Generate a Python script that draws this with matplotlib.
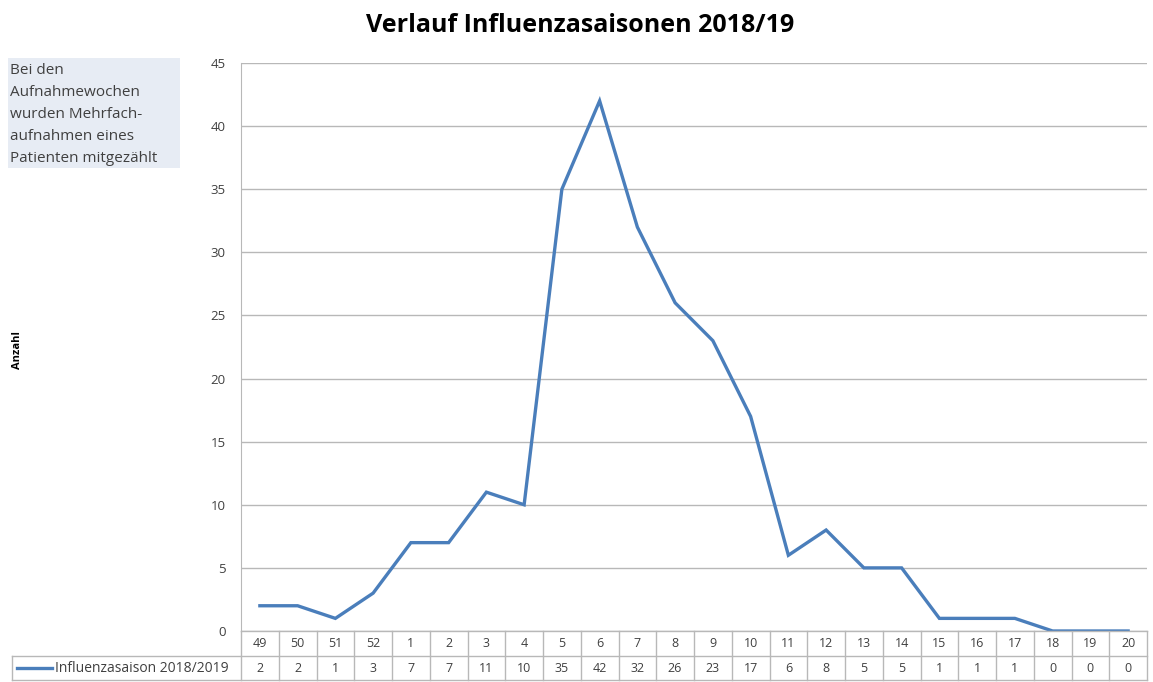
import matplotlib
matplotlib.use("Agg")
import matplotlib.pyplot as plt
from matplotlib.transforms import blended_transform_factory
from matplotlib.patches import Rectangle

weeks = ["49", "50", "51", "52", "1", "2", "3", "4", "5", "6", "7", "8",
         "9", "10", "11", "12", "13", "14", "15", "16", "17", "18", "19", "20"]
counts = [2, 2, 1, 3, 7, 7, 11, 10, 35, 42, 32, 26, 23, 17, 6, 8, 5, 5, 1, 1, 1, 0, 0, 0]
series_name = "Influenzasaison 2018/2019"
yticks = [0, 5, 10, 15, 20, 25, 30, 35, 40, 45]
title = "Verlauf Influenzasaisonen 2018/19"
note = "Bei den\nAufnahmewochen\nwurden Mehrfach-\naufnahmen eines\nPatienten mitgezählt"
ylabel = "Anzahl"

W, H = 1153, 682
fig = plt.figure(figsize=(W / 100, H / 100), dpi=100)
plt.rcParams['font.family'] = ['Open Sans', 'DejaVu Sans']

L, R, T, B = 241, 1147, 63, 631
ax = fig.add_axes([L / W, 1 - B / H, (R - L) / W, (B - T) / H])
x = list(range(len(weeks)))
line_color = "#4a7ebb"
grid_color = "#b8b8b8"
text_color = "#404040"
ax.plot(x, counts, color=line_color, lw=2.4, solid_joinstyle="miter", zorder=3)
ax.set_xlim(-0.5, len(weeks) - 0.5)
ax.set_ylim(0, 45)
ax.set_yticks(yticks)
ax.set_yticklabels([str(v) for v in yticks], fontsize=9.5, color=text_color)
ax.yaxis.grid(True, color=grid_color, lw=1)
ax.set_axisbelow(True)
ax.set_xticks([])
for s in ["top", "right", "bottom"]:
    ax.spines[s].set_visible(False)
ax.spines["left"].set_color(grid_color)
ax.tick_params(axis="y", length=0, pad=11)

# data table below the axes
tr = blended_transform_factory(ax.transData, fig.transFigure)
row1_top, row1_bot, row2_bot = 1 - B / H, 1 - 656 / H, 1 - 680 / H
for i, (wk, c) in enumerate(zip(weeks, counts)):
    ax.add_line(plt.Line2D([i - 0.5, i - 0.5], [row2_bot, row1_top], transform=tr,
                           color=grid_color, lw=1, clip_on=False))
    fig.text(i, (row1_top + row1_bot) / 2, wk, transform=tr, ha="center", va="center",
             fontsize=9, color=text_color)
    fig.text(i, (row1_bot + row2_bot) / 2, str(c), transform=tr, ha="center", va="center",
             fontsize=9, color=text_color)
n = len(weeks)
ax.add_line(plt.Line2D([n - 0.5, n - 0.5], [row2_bot, row1_top], transform=tr,
                       color=grid_color, lw=1, clip_on=False))
for yy in [row1_bot, row2_bot]:
    fig.add_artist(plt.Line2D([12 / W, R / W], [yy, yy], color=grid_color, lw=1))
fig.add_artist(plt.Line2D([L / W, R / W], [row1_top, row1_top], color=grid_color, lw=1))
fig.add_artist(plt.Line2D([12 / W, 12 / W], [row2_bot, row1_bot], color=grid_color, lw=1))
ymid = (row1_bot + row2_bot) / 2
fig.add_artist(plt.Line2D([17 / W, 52 / W], [ymid, ymid], color=line_color, lw=2.4))
fig.text(55 / W, ymid, series_name, ha="left", va="center", fontsize=10, color=text_color)

fig.text(580 / W, 1 - 25 / H, title, ha="center", va="center", fontsize=18,
         fontweight="bold", color="#000000")
fig.text(18 / W, 1 - 350 / H, ylabel, rotation=90, ha="center", va="center",
         fontsize=8, fontweight="bold")
fig.add_artist(Rectangle((8 / W, 1 - 168 / H), 172 / W, 110 / H, transform=fig.transFigure,
                         facecolor="#e7ecf4", edgecolor="none"))
fig.text(10 / W, 1 - 63 / H, note, ha="left", va="top", fontsize=11, color=text_color,
         linespacing=1.64)

fig.savefig("out.png", dpi=100)
